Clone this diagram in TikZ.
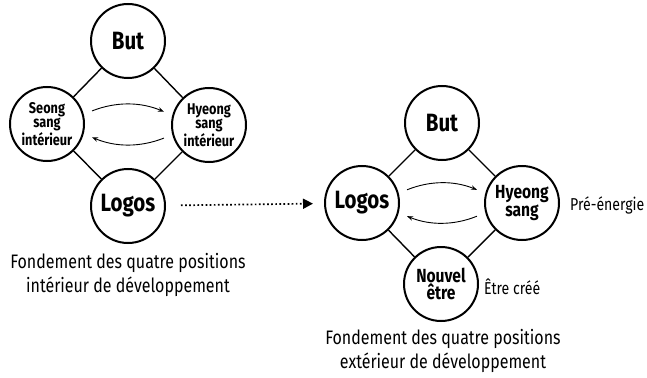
\documentclass[tikz,border=0pt]{standalone}
\usepackage{fontspec}
\setmainfont{Fira Sans}[FakeStretch=0.82]
\usetikzlibrary{arrows.meta}
\begin{document}
\begin{tikzpicture}[x=1pt,y=-1pt,
  posnode/.style={circle,draw,line width=2pt,minimum size=74pt,inner sep=0pt,
    align=center,font=\bfseries\fontsize{25}{25}\selectfont},
  small/.style={font=\bfseries\fontsize{15.5}{14.5}\selectfont},
  mid/.style={font=\bfseries\fontsize{19}{17.5}\selectfont},
  link/.style={line width=1.4pt},
  flow/.style={line width=0.9pt,-{Stealth[length=6pt,width=4.5pt]},shorten <=9pt,shorten >=9pt},
  caption/.style={align=center,font=\fontsize{19.5}{23.5}\selectfont},
  note/.style={anchor=west,font=\fontsize{17.2}{17.2}\selectfont}]
\useasboundingbox (0,0) rectangle (647,377);

% inner four-position foundation
\node[posnode] (Lbut) at (128,41) {But};
\node[posnode,small] (Lseong) at (47,124) {Seong\\sang\\intérieur};
\node[posnode,small] (Lhyeong) at (209,125) {Hyeong\\sang\\intérieur};
\node[posnode] (Llogos) at (128,206) {Logos};
\draw[link] (Lbut) -- (Lseong);
\draw[link] (Lbut) -- (Lhyeong);
\draw[link] (Lseong) -- (Llogos);
\draw[link] (Lhyeong) -- (Llogos);
\draw[flow] (Lseong.15) to[bend left=22] (Lhyeong.165);
\draw[flow] (Lhyeong.195) to[bend left=22] (Lseong.-15);
\node[caption] (Lcap) at (128,275) {Fondement des quatre positions\\intérieur de développement};

% outer four-position foundation
\node[posnode] (Rbut) at (442,123) {But};
\node[posnode] (Rlogos) at (362,203) {Logos};
\node[posnode,mid] (Rhyeong) at (522,203) {Hyeong\\sang};
\node[posnode,mid] (Rnouvel) at (441,284) {Nouvel\\être};
\draw[link] (Rbut) -- (Rlogos);
\draw[link] (Rbut) -- (Rhyeong);
\draw[link] (Rlogos) -- (Rnouvel);
\draw[link] (Rhyeong) -- (Rnouvel);
\draw[flow] (Rlogos.15) to[bend left=22] (Rhyeong.165);
\draw[flow] (Rhyeong.195) to[bend left=22] (Rlogos.-15);
\node[note,inner sep=1pt] (pre) at (569,205) {Pré-énergie};
\node[note,inner sep=1pt] (cree) at (483,287) {Être créé};
\node[caption] (Rcap) at (443,351) {Fondement des quatre positions\\extérieur de développement};

% transition between the two foundations
\draw[line width=1.7pt,dash pattern=on 1.7pt off 2.4pt,
  -{Triangle[length=10pt,width=10pt]},shorten <=15pt,shorten >=11pt]
  (Llogos) -- (Rlogos);
\end{tikzpicture}
\end{document}
